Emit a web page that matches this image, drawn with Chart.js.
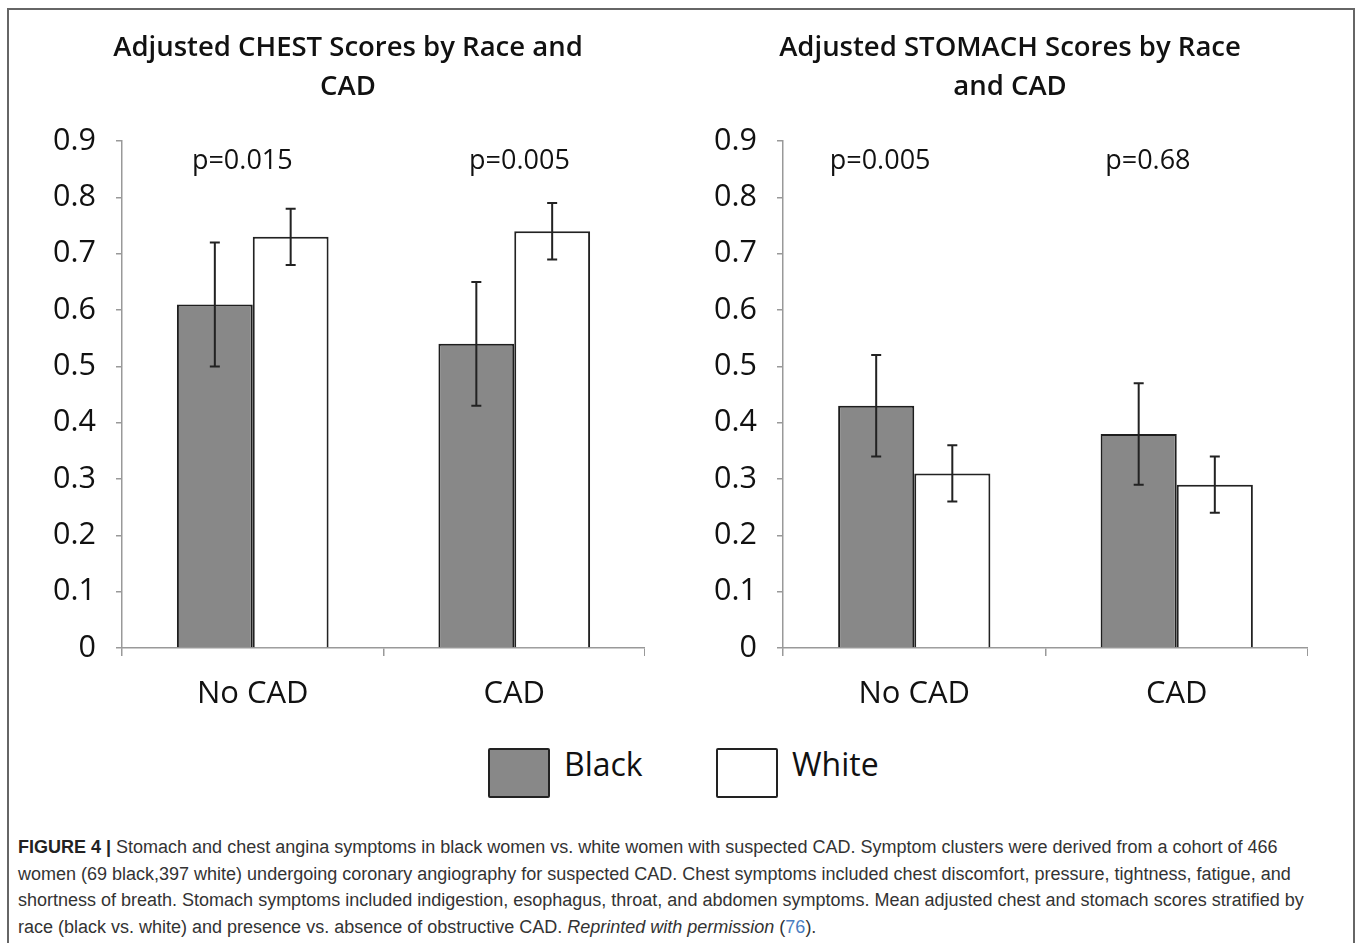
<!DOCTYPE html>
<html>
<head>
<meta charset="utf-8">
<script src="https://cdn.jsdelivr.net/npm/chart.js@4.4.1/dist/chart.umd.min.js"></script>
<style>
  body { margin: 0; width: 1360px; height: 943px; background: #fff; position: relative; overflow: hidden; font-family: "Open Sans", sans-serif; }
  #frame { position: absolute; left: 7px; top: 8px; width: 1348px; height: 960px; border: 2px solid #666; box-sizing: border-box; }
  .wrap { position: absolute; top: 20px; height: 698px; }
  #leftWrap { left: 20px; width: 625px; }
  #rightWrap { left: 681px; width: 627px; }
  #legend { position: absolute; top: 748px; left: 0; width: 1360px; height: 48px; }
  .key { position: absolute; top: 0; display: flex; align-items: flex-start; height: 48px; font-size: 32px; line-height: 36px; color: #111; }
  .box { width: 58px; height: 46px; border: 2px solid #222; border-radius: 2px; margin-right: 14px; }
  .key span { margin-top: -2px; }
  #caption { position: absolute; left: 18px; top: 834px; white-space: nowrap; font-family: "Liberation Sans", Arial, sans-serif; font-size: 18px; line-height: 26.7px; color: #333; }
  #caption b { color: #222; }
  #caption .ref { color: #4a7cc0; }
</style>
</head>
<body>
<div id="frame"></div>
<div class="wrap" id="leftWrap"><canvas id="chestChart"></canvas></div>
<div class="wrap" id="rightWrap"><canvas id="stomachChart"></canvas></div>
<div id="legend">
  <div class="key" style="left:488px"><div class="box" style="background:#888"></div><span>Black</span></div>
  <div class="key" style="left:716px"><div class="box" style="background:#fff"></div><span>White</span></div>
</div>
<div id="caption"><b>FIGURE 4 |</b> Stomach and chest angina symptoms in black women vs. white women with suspected CAD. Symptom clusters were derived from a cohort of 466<br>women (69 black,397 white) undergoing coronary angiography for suspected CAD. Chest symptoms included chest discomfort, pressure, tightness, fatigue, and<br>shortness of breath. Stomach symptoms included indigestion, esophagus, throat, and abdomen symptoms. Mean adjusted chest and stomach scores stratified by<br>race (black vs. white) and presence vs. absence of obstructive CAD. <i>Reprinted with permission</i> (<span class="ref">76</span>).</div>

<script>
// data
var categories = ["No CAD", "CAD"];
var seriesNames = ["Black", "White"];
var yTicks = [0, 0.1, 0.2, 0.3, 0.4, 0.5, 0.6, 0.7, 0.8, 0.9];

var chestBlack = [0.61, 0.54];
var chestBlackLow = [0.50, 0.43];
var chestBlackHigh = [0.72, 0.65];
var chestWhite = [0.73, 0.74];
var chestWhiteLow = [0.68, 0.69];
var chestWhiteHigh = [0.78, 0.79];
var chestP = ["p=0.015", "p=0.005"];

var stomachBlack = [0.43, 0.38];
var stomachBlackLow = [0.34, 0.29];
var stomachBlackHigh = [0.52, 0.47];
var stomachWhite = [0.31, 0.29];
var stomachWhiteLow = [0.26, 0.24];
var stomachWhiteHigh = [0.36, 0.34];
var stomachP = ["p=0.005", "p=0.68"];

// error bars + p-value labels, drawn through the chart scales
var extras = {
  id: 'extras',
  afterDatasetsDraw: function(chart, args, opts) {
    var ctx = chart.ctx;
    var y = chart.scales.y, x = chart.scales.x;
    ctx.save();
    ctx.strokeStyle = '#222';
    ctx.lineWidth = 2;
    chart.data.datasets.forEach(function(ds, i) {
      var meta = chart.getDatasetMeta(i);
      meta.data.forEach(function(bar, j) {
        var top = y.getPixelForValue(ds.high[j]);
        var bot = y.getPixelForValue(ds.low[j]);
        ctx.beginPath();
        ctx.moveTo(bar.x, top); ctx.lineTo(bar.x, bot);
        ctx.moveTo(bar.x - 5, top); ctx.lineTo(bar.x + 5, top);
        ctx.moveTo(bar.x - 5, bot); ctx.lineTo(bar.x + 5, bot);
        ctx.stroke();
      });
    });
    ctx.fillStyle = '#111';
    ctx.font = '27px "Open Sans"';
    ctx.textAlign = 'center';
    ctx.textBaseline = 'middle';
    opts.labels.forEach(function(t, j) {
      ctx.fillText(t, x.getPixelForValue(opts.at[j]), y.getPixelForValue(0.865));
    });
    ctx.restore();
  }
};

function makeChart(id, title, black, blackLow, blackHigh, white, whiteLow, whiteHigh, pLabels, pAt) {
  return new Chart(document.getElementById(id).getContext('2d'), {
    type: 'bar',
    data: {
      labels: categories,
      datasets: [
        { label: seriesNames[0], data: black, low: blackLow, high: blackHigh,
          backgroundColor: '#888', borderColor: '#1e1e1e', borderWidth: 2 },
        { label: seriesNames[1], data: white, low: whiteLow, high: whiteHigh,
          backgroundColor: '#fff', borderColor: '#222', borderWidth: 2 }
      ]
    },
    options: {
      responsive: true,
      maintainAspectRatio: false,
      animation: false,
      layout: { padding: { left: 31, right: 0 } },
      datasets: { bar: { categoryPercentage: 0.58, barPercentage: 1 } },
      plugins: {
        legend: { display: false },
        tooltip: { enabled: false },
        title: {
          display: true,
          text: title,
          color: '#111',
          font: { family: 'Open Sans', size: 27.5, weight: '600', lineHeight: 1.42 },
          padding: { top: 9, bottom: 34 }
        },
        extras: { labels: pLabels, at: pAt }
      },
      scales: {
        x: {
          grid: { display: true, drawOnChartArea: false, drawTicks: true, tickLength: 8, color: '#999', lineWidth: 1.5 },
          border: { color: '#999', width: 1.5 },
          ticks: { color: '#111', font: { family: 'Open Sans', size: 31 }, padding: 20 },
          afterFit: function(s) { s.height = 70; }
        },
        y: {
          min: 0, max: 0.9,
          afterBuildTicks: function(s) { s.ticks = yTicks.map(function(v) { return { value: v }; }); },
          grid: { display: true, drawOnChartArea: false, drawTicks: true, tickLength: 6, color: '#999', lineWidth: 1.5 },
          border: { color: '#999', width: 1.5 },
          ticks: { color: '#111', font: { family: 'Open Sans', size: 30.5 }, padding: 20,
            callback: function(v) { return String(+v.toFixed(1)); } },
          afterFit: function(s) { s.width = 71; }
        }
      }
    },
    plugins: [extras]
  });
}

window.onload = function() {
  makeChart('chestChart', ['Adjusted CHEST Scores by Race and', 'CAD'],
    chestBlack, chestBlackLow, chestBlackHigh, chestWhite, chestWhiteLow, chestWhiteHigh,
    chestP, [-0.04, 1.02]);
  makeChart('stomachChart', ['Adjusted STOMACH Scores by Race', 'and CAD'],
    stomachBlack, stomachBlackLow, stomachBlackHigh, stomachWhite, stomachWhiteLow, stomachWhiteHigh,
    stomachP, [-0.13, 0.89]);
};
</script>
</body>
</html>
